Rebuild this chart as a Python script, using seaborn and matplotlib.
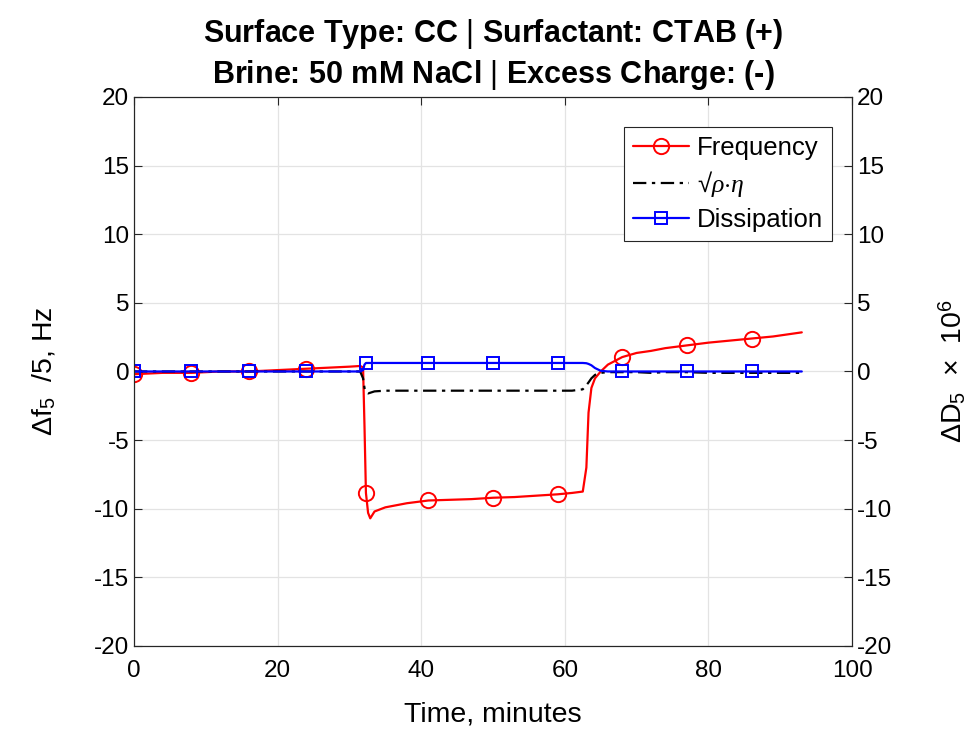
import matplotlib
matplotlib.use("Agg")
import matplotlib.pyplot as plt
import seaborn as sns
import pandas as pd

# Data
time_min = [0, 2, 4, 6, 8, 10, 12, 14, 16, 18, 20, 22, 24, 26, 28, 30, 31.5,
            31.9, 32.1, 32.3, 32.6, 32.9, 33.5, 35, 38, 41, 44, 47, 50, 53, 56,
            59, 61, 62.5, 63.0, 63.3, 63.7, 64.2, 65, 66, 68, 70, 72, 74, 77,
            80, 83, 86, 89, 91, 93]
frequency = [-0.2, -0.15, -0.1, -0.1, -0.1, -0.05, 0.0, 0.0, 0.0, 0.05, 0.1, 0.15,
             0.2, 0.25, 0.3, 0.35, 0.4,
             0.3, -4.0, -8.85, -10.3, -10.7, -10.2, -9.9, -9.6, -9.4, -9.35, -9.3,
             -9.2, -9.15, -9.05, -8.95, -8.85, -8.75, -7.0, -3.0, -1.2, -0.5,
             0.0, 0.5, 1.05, 1.35, 1.5, 1.7, 1.9, 2.1, 2.25, 2.4, 2.55, 2.7, 2.85]
sqrt_rho_eta = [0.0, 0.0, 0.0, 0.0, 0.0, 0.0, 0.0, 0.0, 0.0, 0.0, 0.0, 0.0,
                0.0, 0.0, 0.0, 0.0, 0.0,
                -0.5, -1.2, -1.5, -1.6, -1.55, -1.45, -1.4, -1.4, -1.4, -1.4, -1.4,
                -1.4, -1.4, -1.4, -1.4, -1.4, -1.3, -1.0, -0.8, -0.5, -0.25,
                -0.1, -0.05, -0.05, -0.05, -0.1, -0.05, -0.05, -0.1, -0.1, -0.1,
                -0.1, -0.1, -0.1]
dissipation = [0.0, 0.0, 0.0, 0.0, 0.0, 0.0, 0.0, 0.0, 0.0, 0.0, 0.0, 0.0,
               0.0, 0.0, 0.0, 0.0, 0.0,
               0.1, 0.5, 0.62, 0.62, 0.62, 0.62, 0.62, 0.62, 0.62, 0.62, 0.62,
               0.62, 0.62, 0.62, 0.62, 0.62, 0.62, 0.6, 0.55, 0.45, 0.25,
               0.05, 0.0, 0.0, 0.0, 0.0, 0.0, 0.0, 0.0, 0.0, 0.0, 0.0, 0.0, 0.0]
marker_times = [0, 8, 16, 24, 32.3, 41, 50, 59, 68, 77, 86]
y_ticks = [-20, -15, -10, -5, 0, 5, 10, 15, 20]
x_ticks = [0, 20, 40, 60, 80, 100]

df = pd.DataFrame({"time": time_min, "freq": frequency,
                   "visc": sqrt_rho_eta, "diss": dissipation})
mark_idx = [time_min.index(t) for t in marker_times]

sns.set_style("white")
plt.rcParams["font.family"] = ["Liberation Sans", "DejaVu Sans"]
plt.rcParams["mathtext.fontset"] = "custom"
plt.rcParams["mathtext.rm"] = "Liberation Sans"
plt.rcParams["mathtext.it"] = "Liberation Serif:italic"
plt.rcParams["axes.unicode_minus"] = False
plt.rcParams["text.color"] = "black"
plt.rcParams["axes.labelcolor"] = "black"

fig = plt.figure(figsize=(9.76, 7.38), dpi=100)
ax = fig.add_axes([0.1373, 0.1247, 0.7357, 0.7439])
ax2 = ax.twinx()

sns.lineplot(data=df, x="time", y="freq", ax=ax, color="#ff0000", lw=1.6,
             marker="o", markersize=11, markerfacecolor="none",
             markeredgecolor="#ff0000", markeredgewidth=1.4, markevery=mark_idx,
             label="Frequency", legend=False)
sns.lineplot(data=df, x="time", y="visc", ax=ax, color="black", lw=1.6,
             linestyle=(0, (6, 2.5, 1.5, 2.5)),
             label="√" + r"$\rho{\cdot}\eta$", legend=False)
sns.lineplot(data=df, x="time", y="diss", ax=ax2, color="#0000ff", lw=1.6,
             marker="s", markersize=9, markerfacecolor="none",
             markeredgecolor="#0000ff", markeredgewidth=1.4, markevery=mark_idx,
             label="Dissipation", legend=False)

for a in (ax, ax2):
    a.set_xlim(0, 100)
    a.set_ylim(-20, 20)
    a.set_yticks(y_ticks)
    a.tick_params(direction="in", length=6, labelsize=17.5, colors="#262626",
                  labelcolor="black")
    for s in a.spines.values():
        s.set_color("#262626")
        s.set_linewidth(0.8)
ax.set_xticks(x_ticks)
ax.tick_params(top=True, axis="x", pad=10)
ax.grid(True, color="#e3e3e3", lw=0.9)
ax2.grid(False)

ax.set_xlabel("Time, minutes", fontsize=20.5, labelpad=14)
ax.set_ylabel(r"$\Delta$f$_5$  /5, Hz", fontsize=20.5, labelpad=26)
ax2.set_ylabel(r"$\Delta$D$_5$  $\times$  10$^6$", fontsize=20.5, labelpad=32)
ax.set_title("Surface Type: CC $|$ Surfactant: CTAB (+)\n"
             "Brine: 50 mM NaCl $|$ Excess Charge: (-)",
             fontsize=22, fontweight="bold", linespacing=1.3, pad=10)

handles = ax.get_lines()[:2] + ax2.get_lines()[:1]
leg = ax2.legend(handles, [h.get_label() for h in handles], loc="upper right",
                 bbox_to_anchor=(0.972, 0.945), fontsize=18.5, fancybox=False,
                 framealpha=1, edgecolor="#262626", handlelength=2.2,
                 borderpad=0.35, labelspacing=0.35, handletextpad=0.3,
                 borderaxespad=0)
leg.get_frame().set_linewidth(0.8)

fig.savefig("out.png", dpi=100)
